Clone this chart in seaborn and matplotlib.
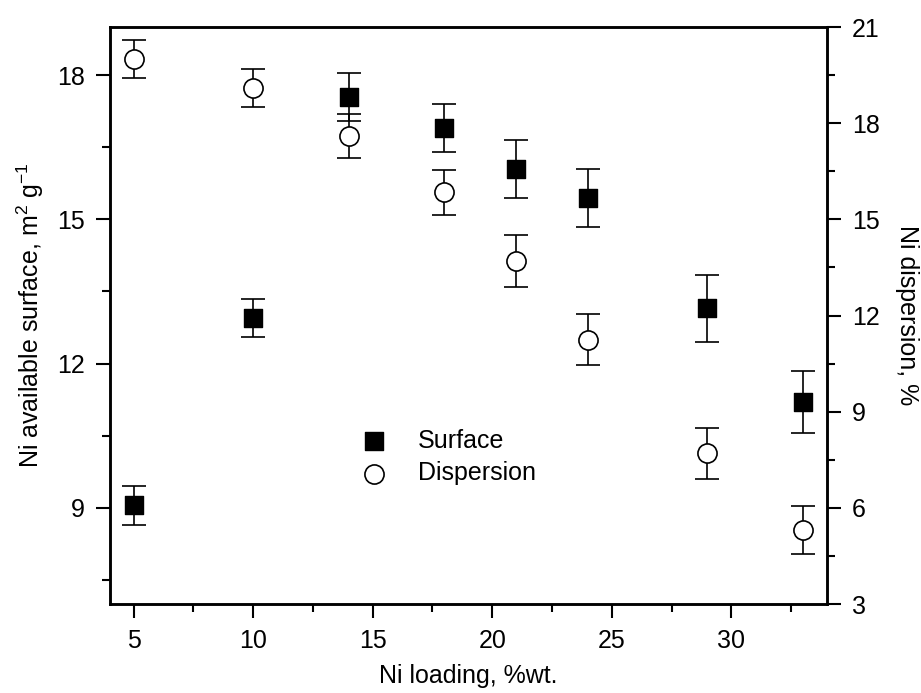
import matplotlib
matplotlib.use("Agg")
import matplotlib.pyplot as plt
import pandas as pd
import seaborn as sns

# values
loading = [5, 10, 14, 18, 21, 24, 29, 33]
surface = [9.05, 12.95, 17.55, 16.9, 16.05, 15.45, 13.15, 11.2]
surface_err = [0.4, 0.4, 0.5, 0.5, 0.6, 0.6, 0.7, 0.65]
dispersion = [20.0, 19.1, 17.6, 15.85, 13.7, 11.25, 7.7, 5.3]
dispersion_err = [0.6, 0.6, 0.7, 0.7, 0.8, 0.8, 0.8, 0.75]

x_ticks = [5, 10, 15, 20, 25, 30]
left_ticks = [9, 12, 15, 18]
right_ticks = [3, 6, 9, 12, 15, 18, 21]


def main():
    sns.set_theme(style="ticks")
    plt.rcParams["font.family"] = ["Liberation Sans", "DejaVu Sans"]
    plt.rcParams["font.size"] = 18
    plt.rcParams["text.color"] = "black"
    plt.rcParams["axes.labelcolor"] = "black"
    plt.rcParams["xtick.color"] = "black"
    plt.rcParams["ytick.color"] = "black"
    plt.rcParams["mathtext.fontset"] = "custom"
    plt.rcParams["mathtext.rm"] = "Liberation Sans"
    plt.rcParams["mathtext.it"] = "Liberation Sans:italic"

    df = pd.DataFrame({"loading": loading,
                       "surface": surface, "surface_err": surface_err,
                       "dispersion": dispersion,
                       "dispersion_err": dispersion_err})

    fig = plt.figure(figsize=(9.21, 6.93), dpi=100)
    ax = fig.add_axes([0.119, 0.1284, 0.779, 0.8326])
    ax2 = ax.twinx()

    ax.errorbar(df["loading"], df["surface"], yerr=df["surface_err"],
                fmt="none", ecolor="black", elinewidth=1.2,
                capsize=8.5, capthick=1.2, zorder=1)
    sns.scatterplot(data=df, x="loading", y="surface", ax=ax,
                    marker="s", s=150, color="black", edgecolor="black",
                    linewidth=1, zorder=3, label="Surface", legend=False)

    ax2.errorbar(df["loading"], df["dispersion"],
                 yerr=df["dispersion_err"], fmt="none", ecolor="black",
                 elinewidth=1.2, capsize=8.5, capthick=1.2, zorder=1)
    sns.scatterplot(data=df, x="loading", y="dispersion", ax=ax2,
                    marker="o", s=190, color="white", edgecolor="black",
                    linewidth=1.2, zorder=3, label="Dispersion",
                    legend=False)

    ax.set_xlim(4, 34)
    ax.set_ylim(7, 19)
    ax2.set_ylim(3, 21)
    ax.set_xticks(x_ticks)
    ax.set_xticks([t + 2.5 for t in x_ticks], minor=True)
    ax.set_yticks(left_ticks)
    ax.set_yticks([7.5, 10.5, 13.5, 16.5], minor=True)
    ax2.set_yticks(right_ticks)
    ax2.set_yticks([t + 1.5 for t in right_ticks[:-1]], minor=True)

    for a in (ax, ax2):
        a.tick_params(which="major", direction="out", length=10, width=1.5,
                      labelsize=18, color="black", pad=8)
        a.tick_params(which="minor", direction="out", length=6, width=1.5,
                      color="black")
        for s in a.spines.values():
            s.set_visible(True)
            s.set_linewidth(1.8)
            s.set_color("black")

    ax.set_xlabel("Ni loading, %wt.", fontsize=18, labelpad=8)
    ax.set_ylabel("Ni available surface, m$^2$ g$^{-1}$", fontsize=18,
                  labelpad=8)
    ax2.set_ylabel("Ni dispersion, %", fontsize=18, rotation=270,
                   labelpad=28)

    h1, l1 = ax.get_legend_handles_labels()
    h2, l2 = ax2.get_legend_handles_labels()
    ax2.legend(h1 + h2, l1 + l2, loc="center left",
               bbox_to_anchor=(0.334, 0.255), frameon=False, fontsize=18,
               handletextpad=1.15, labelspacing=0.35, borderaxespad=0,
               handlelength=1.2)

    fig.savefig("out.png", dpi=100)


if __name__ == "__main__":
    main()
